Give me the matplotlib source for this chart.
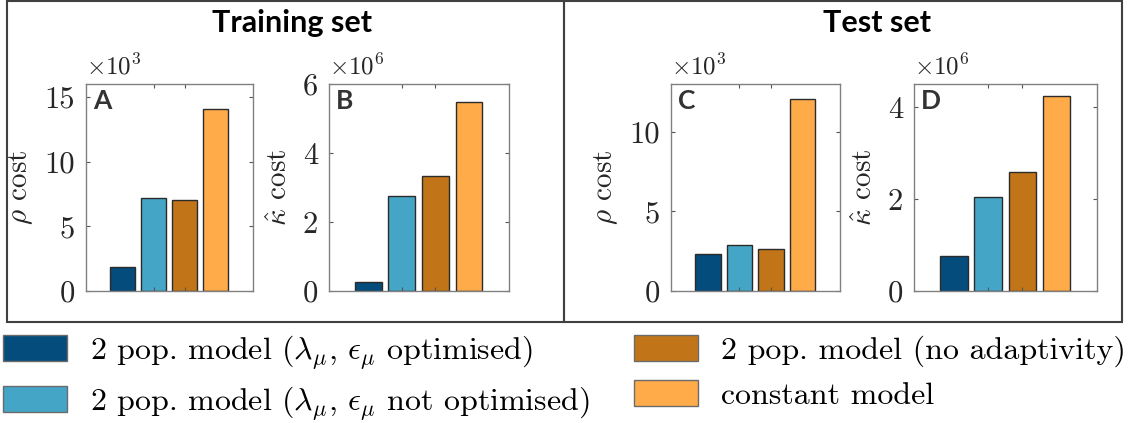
import numpy as np
import matplotlib
matplotlib.use("Agg")
import matplotlib.pyplot as plt
from matplotlib.patches import Rectangle, Patch

plt.rcParams['mathtext.fontset'] = 'cm'

models = [r'2 pop. model ($\lambda_\mu$, $\epsilon_\mu$ optimised)',
          r'2 pop. model ($\lambda_\mu$, $\epsilon_\mu$ not optimised)',
          '2 pop. model (no adaptivity)',
          'constant model']
colors = ['#044c7c', '#44a5c6', '#c27518', '#ffab49']

# values in units of the axis multiplier
train_rho = [1.88, 7.2, 7.0, 14.1]      # x10^3
train_kappa = [0.26, 2.76, 3.32, 5.48]  # x10^6
test_rho = [2.31, 2.89, 2.62, 12.06]    # x10^3
test_kappa = [0.76, 2.04, 2.59, 4.24]   # x10^6

panels = [
    ('A', train_rho, r'$\rho$ cost', r'$\times10^{3}$', 16, [0, 5, 10, 15], (86, 253)),
    ('B', train_kappa, r'$\hat{\kappa}$ cost', r'$\times10^{6}$', 6, [0, 2, 4, 6], (329, 509)),
    ('C', test_rho, r'$\rho$ cost', r'$\times10^{3}$', 13, [0, 5, 10], (671, 840)),
    ('D', test_kappa, r'$\hat{\kappa}$ cost', r'$\times10^{6}$', 4.5, [0, 2, 4], (914, 1097)),
]

W, H = 1128, 423
fig = plt.figure(figsize=(W / 100, H / 100), dpi=100)

top, bottom = 84, 291
for letter, vals, ylab, mult, ymax, yt, (x0, x1) in panels:
    ax = fig.add_axes([x0 / W, 1 - bottom / H, (x1 - x0) / W, (bottom - top) / H])
    x = np.arange(len(vals))
    ax.bar(x, vals, width=0.8, color=colors, edgecolor='#2b2b2b', linewidth=1.0)
    ax.set_xlim(-1.17, 4.19)
    ax.set_ylim(0, ymax)
    ax.set_yticks(yt)
    ax.set_yticklabels([str(v) for v in yt])
    ax.set_xticks([1, 2])
    ax.set_xticklabels([])
    ax.tick_params(direction='in', top=True, right=True, length=3, width=0.8,
                   color='#555555', labelsize=22, pad=8, labelfontfamily='cmr10',
                   labelcolor='#262626')
    for s in ax.spines.values():
        s.set_color('#808080')
        s.set_linewidth(1.0)
    ax.set_ylabel(ylab, fontsize=21, fontfamily='cmr10', color='#262626', labelpad=7)
    ax.text(0.0, 1.02, mult, transform=ax.transAxes, fontsize=18, fontfamily='cmr10',
            ha='left', va='bottom', color='#262626')
    ax.text(7 / (x1 - x0), 1 - 5 / (bottom - top), letter, transform=ax.transAxes,
            fontsize=19, fontfamily='Lato', fontweight='bold', color='#333333',
            ha='left', va='top')

fig.text(292 / W, 1 - 23 / H, 'Training set', fontsize=22, fontfamily='Lato',
         fontweight='bold', ha='center', va='center')
fig.text(877 / W, 1 - 23 / H, 'Test set', fontsize=22, fontfamily='Lato',
         fontweight='bold', ha='center', va='center')

for bx0, bx1 in [(7, 564), (564, 1122)]:
    fig.patches.append(Rectangle((bx0 / W, 1 - 322 / H), (bx1 - bx0) / W, 321 / H,
                                 transform=fig.transFigure, fill=False,
                                 edgecolor='#404040', linewidth=1.5))

handles = [Patch(facecolor=c, edgecolor='#6b6b6b', linewidth=1.0) for c in colors]
fig.legend(handles, models, loc='upper left', bbox_to_anchor=(3 / W, 1 - 333 / H),
           ncol=2, frameon=False, borderpad=0, borderaxespad=0,
           prop={'family': 'cmr10', 'size': 23}, handlelength=2.0, handleheight=0.88,
           handletextpad=0.72, columnspacing=1.4, labelspacing=0.4)

fig.savefig('out.png', dpi=100)
